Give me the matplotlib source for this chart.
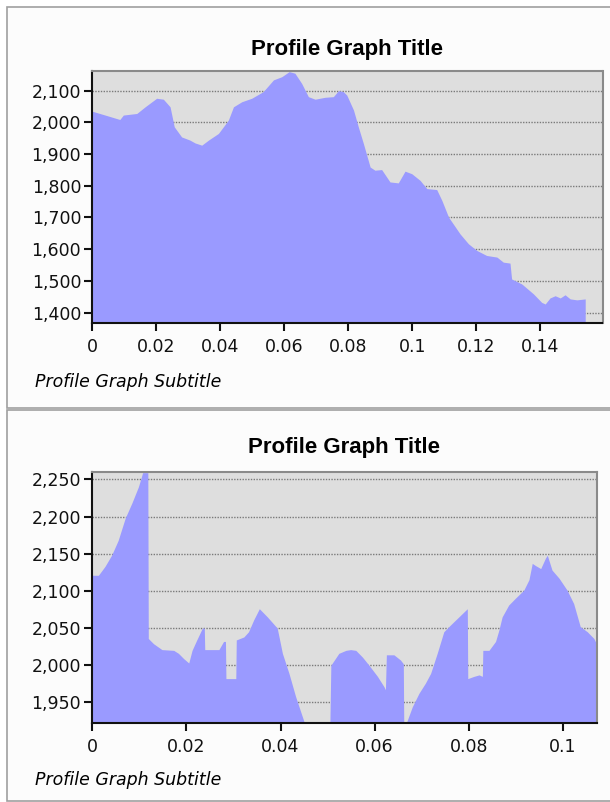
import matplotlib.pyplot as plt
import numpy as np
from matplotlib.patches import Rectangle

plt.rcParams["font.family"] = ["DejaVu Sans"]

# --- data ---
top_dist = [0.0, 0.004, 0.0086, 0.0097, 0.0139, 0.0165, 0.0201, 0.0222, 0.0243, 0.0256,
            0.0279, 0.0305, 0.0321, 0.0342, 0.0363, 0.0394, 0.0425, 0.0441, 0.0467, 0.0498,
            0.0534, 0.0566, 0.0592, 0.0615, 0.0633, 0.0654, 0.0675, 0.0696, 0.0727, 0.0753,
            0.0769, 0.0784, 0.0795, 0.0816, 0.0831, 0.0847, 0.0868, 0.0883, 0.0904, 0.0930,
            0.0956, 0.0977, 0.0998, 0.1024, 0.1045, 0.1076, 0.1092, 0.1113, 0.1149, 0.1175,
            0.1201, 0.1232, 0.1264, 0.1284, 0.1305, 0.1310, 0.1342, 0.1378, 0.1404, 0.1415,
            0.1430, 0.1446, 0.1462, 0.1477, 0.1493, 0.1514, 0.1540]
top_elev = [2035, 2023, 2009, 2023, 2028, 2049, 2076, 2073, 2049, 1986,
            1954, 1944, 1935, 1928, 1944, 1965, 2007, 2049, 2065, 2076,
            2097, 2134, 2144, 2160, 2155, 2123, 2081, 2073, 2079, 2081,
            2100, 2097, 2086, 2039, 1986, 1933, 1859, 1849, 1851, 1812,
            1809, 1846, 1838, 1817, 1791, 1788, 1754, 1701, 1648, 1617,
            1596, 1580, 1575, 1559, 1556, 1506, 1490, 1459, 1432, 1427,
            1446, 1453, 1446, 1456, 1443, 1440, 1443]

bot_dist = [0.0, 0.0013, 0.0027, 0.0041, 0.0055, 0.0070, 0.0084, 0.0098, 0.0107, 0.0118,
            0.0119, 0.0130, 0.0148, 0.0173, 0.0183, 0.0194, 0.0205, 0.0212, 0.0222, 0.0234,
            0.0238, 0.0239, 0.0269, 0.0279, 0.0283, 0.0284, 0.0305, 0.0306, 0.0322, 0.0332,
            0.0343, 0.0355, 0.0372, 0.0393, 0.0404, 0.0418, 0.0432, 0.0450, 0.0460, 0.0503,
            0.0505, 0.0507, 0.0524, 0.0539, 0.0549, 0.0560, 0.0574, 0.0588, 0.0606, 0.0620,
            0.0623, 0.0625, 0.0641, 0.0655, 0.0661, 0.0662, 0.0666, 0.0680, 0.0694, 0.0708,
            0.0719, 0.0733, 0.0747, 0.0761, 0.0779, 0.0797, 0.0798, 0.0811, 0.0822, 0.0829,
            0.0830, 0.0843, 0.0857, 0.0864, 0.0871, 0.0885, 0.0899, 0.0917, 0.0928, 0.0935,
            0.0942, 0.0953, 0.0963, 0.0967, 0.0977, 0.0992, 0.1009, 0.1023, 0.1037, 0.1052,
            0.1066, 0.1076]
bot_elev = [2121, 2121, 2133, 2148, 2168, 2198, 2218, 2240, 2259, 2259,
            2036, 2029, 2021, 2020, 2016, 2009, 2003, 2020, 2034, 2050,
            2050, 2021, 2021, 2032, 2032, 1982, 1982, 2034, 2038, 2045,
            2061, 2076, 2065, 2050, 2016, 1989, 1958, 1924, 1912, 1912,
            1924, 2000, 2016, 2020, 2021, 2020, 2011, 2000, 1985, 1971,
            1967, 2014, 2014, 2007, 2002, 1918, 1920, 1944, 1962, 1976,
            1989, 2016, 2045, 2054, 2065, 2076, 1982, 1985, 1987, 1985,
            2020, 2020, 2032, 2047, 2065, 2081, 2090, 2101, 2115, 2137,
            2134, 2130, 2144, 2148, 2128, 2117, 2101, 2083, 2052, 2045,
            2036, 2023]

top_yticks = [1400, 1500, 1600, 1700, 1800, 1900, 2000, 2100]
top_xticks = [0, 0.02, 0.04, 0.06, 0.08, 0.1, 0.12, 0.14]
top_xlabels = ["0", "0.02", "0.04", "0.06", "0.08", "0.1", "0.12", "0.14"]
bot_yticks = [1950, 2000, 2050, 2100, 2150, 2200, 2250]
bot_xticks = [0, 0.02, 0.04, 0.06, 0.08, 0.1]
bot_xlabels = ["0", "0.02", "0.04", "0.06", "0.08", "0.1"]

W, H = 610, 802
fig = plt.figure(figsize=(W / 100, H / 100), dpi=100, facecolor="white")

def px_rect(x0, y0, x1, y1):
    # pixel box (top-left origin) -> figure fraction [l, b, w, h]
    return [x0 / W, 1 - y1 / H, (x1 - x0) / W, (y1 - y0) / H]

# panel frames, kept behind the axes
for y0, y1 in [(7, 408), (410, 801)]:
    l, b, w, h = px_rect(7, y0, 612, y1)
    fig.patches.append(Rectangle((l, b), w, h, transform=fig.transFigure,
                                 facecolor="#fcfcfc", edgecolor="#a0a0a0", lw=1.2, zorder=-5))

def profile(box, dist, elev, xlim, ylim, xticks, xlabels, yticks, title_y, sub_y):
    ax = fig.add_axes(px_rect(*box))
    ax.set_facecolor("#dedede")
    ax.fill_between(dist, elev, ylim[0] - 100, color="#9a9aff", lw=0, zorder=2)
    ax.set_xlim(xlim)
    ax.set_ylim(ylim)
    ax.set_yticks(yticks)
    ax.set_yticklabels([f"{v:,}" for v in yticks])
    ax.set_xticks(xticks)
    ax.set_xticklabels(xlabels)
    ax.set_axisbelow(True)
    ax.yaxis.grid(True, linestyle=(0, (1, 1)), color="#7a7a7a", lw=1)
    ax.tick_params(direction="out", length=6, width=1.5, colors="#111111",
                   labelsize=12.5, pad=2)
    ax.tick_params(axis="x", pad=5)
    for s in ["top", "right"]:
        ax.spines[s].set_color("#8a8a8a")
        ax.spines[s].set_linewidth(1.5)
    for s in ["left", "bottom"]:
        ax.spines[s].set_color("#111111")
        ax.spines[s].set_linewidth(1.5)
    cx = (box[0] + box[2]) / 2
    fig.text(cx / W, 1 - title_y / H, "Profile Graph Title", ha="center", va="center",
             fontsize=16, fontweight="bold", family="Liberation Sans")
    fig.text(35 / W, 1 - sub_y / H, "Profile Graph Subtitle", ha="left", va="center",
             fontsize=12.5, style="italic")
    return ax

profile((92.3, 71, 602.5, 323), top_dist, top_elev, (0, 0.1594), (1367, 2162),
        top_xticks, top_xlabels, top_yticks, 49, 382)
profile((92.3, 471.7, 596.7, 722.7), bot_dist, bot_elev, (0, 0.1072), (1922.7, 2260.3),
        bot_xticks, bot_xlabels, bot_yticks, 447, 780)

fig.savefig("out.png", dpi=100, facecolor="white")
